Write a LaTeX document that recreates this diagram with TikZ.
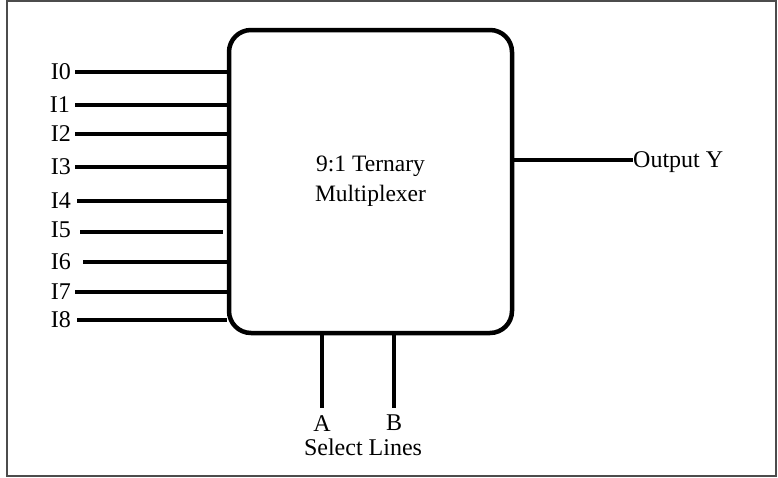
\documentclass[tikz,border=0pt]{standalone}
\usepackage{fontspec}
\setmainfont{Liberation Serif}
\usetikzlibrary{positioning}

\tikzset{
  wire/.style={line width=4.5pt},
  lbl/.style={inner sep=0pt, text depth=0pt, font=\fontsize{24}{28}\selectfont},
}

\begin{document}
\begin{tikzpicture}[x=1pt, y=-1pt]
        \useasboundingbox (0,0) rectangle (778,477);
        % Frame
        \draw[line width=1.2pt, black!70] (7,1) rectangle (776,476);

        % Multiplexer block
        \node[draw, line width=4.5pt, rounded corners=22pt, minimum width=283pt, minimum height=303pt,
              align=center, font=\fontsize{23.5}{30}\selectfont] (mux) at (370.5,181.5) {9:1 Ternary\\Multiplexer};

        % Inputs
        \node[lbl, anchor=east] (i0) at (71,72) {I0};
        \node[lbl, anchor=east] (i1) at (70,105) {I1};
        \node[lbl, anchor=east] (i2) at (71,134) {I2};
        \node[lbl, anchor=east] (i3) at (71,167) {I3};
        \node[lbl, anchor=east] (i4) at (71,201) {I4};
        \node[lbl, anchor=east] (i5) at (71,230) {I5};
        \node[lbl, anchor=east] (i6) at (71,262) {I6};
        \node[lbl, anchor=east] (i7) at (71,292) {I7};
        \node[lbl, anchor=east] (i8) at (71,320) {I8};

        \draw[wire] ([xshift=4pt]i0.east) -- (mux.west |- i0.east);
        \draw[wire] ([xshift=5pt]i1.east) -- (mux.west |- i1.east);
        \draw[wire] ([xshift=4pt]i2.east) -- (mux.west |- i2.east);
        \draw[wire] ([xshift=4pt]i3.east) -- (mux.west |- i3.east);
        \draw[wire] ([xshift=6pt]i4.east) -- (mux.west |- i4.east);
        \draw[wire] ([xshift=9pt,yshift=-2pt]i5.east) -- ([xshift=-4pt,yshift=-2pt]mux.west |- i5.east);
        \draw[wire] ([xshift=12pt]i6.east) -- (mux.west |- i6.east);
        \draw[wire] ([xshift=4pt]i7.east) -- (mux.west |- i7.east);
        \draw[wire] ([xshift=6pt]i8.east) -- (mux.west |- i8.east);

        % Output
        \node[lbl, anchor=west] (out) at (633,160) {Output Y};
        \draw[wire] (mux.east |- out.west) -- (out.west);

        % Select lines
        \node[lbl, anchor=north] (a) at (322,415) {A};
        \node[lbl, anchor=north] (b) at (394,415) {B};
        \draw[wire] (mux.south -| a.north) -- ([yshift=7pt]a.north);
        \draw[wire] (mux.south -| b.north) -- ([yshift=7pt]b.north);
        \node[lbl] (sel) at (363,447) {Select Lines};
\end{tikzpicture}
\end{document}
